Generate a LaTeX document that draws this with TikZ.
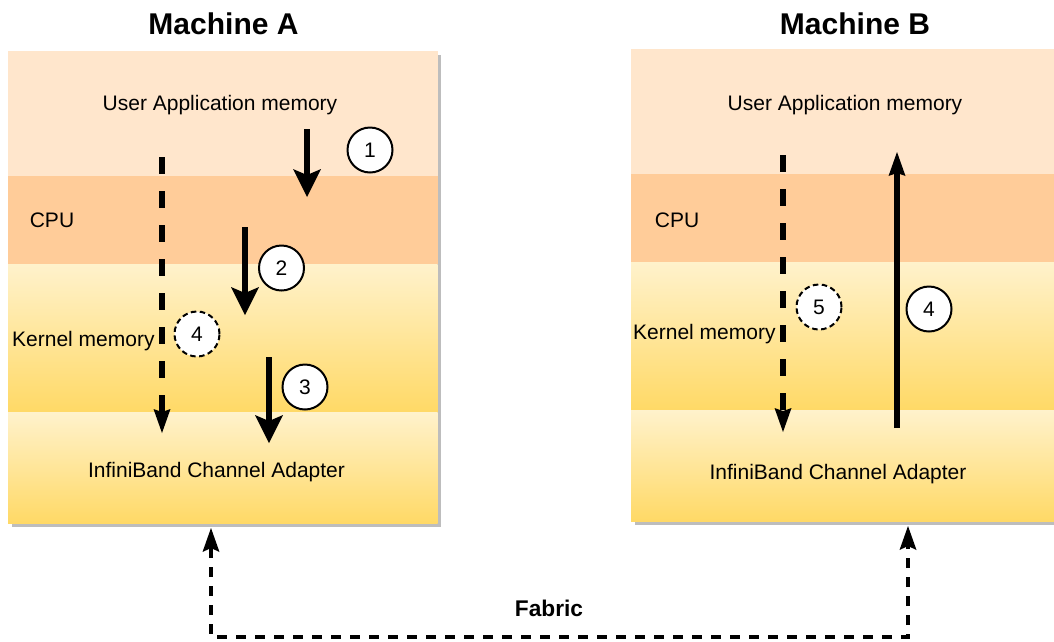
\documentclass[tikz,border=0pt]{standalone}
\usepackage{fontspec}
\setmainfont{Liberation Sans}
\usetikzlibrary{arrows.meta}
\definecolor{uam}{HTML}{FFE6CC}
\definecolor{cpuc}{HTML}{FFCC99}
\definecolor{ylt}{HTML}{FFF2CC}
\definecolor{ydk}{HTML}{FFD966}
\definecolor{shd}{HTML}{BDBDBD}
\begin{document}
\begin{tikzpicture}[x=1pt,y=-1pt,
  layer/.style={anchor=north west, inner sep=0pt, outer sep=0pt, draw=none},
  ylayer/.style={layer, top color=ylt, bottom color=ydk},
  lbl/.style={font=\fontsize{21}{25}\selectfont, inner sep=0pt},
  ttl/.style={font=\fontsize{30}{36}\selectfont\bfseries, inner sep=0pt},
  num/.style={circle, draw, line width=2pt, fill=white, minimum size=45pt, inner sep=0pt, font=\fontsize{21}{25}\selectfont},
  numd/.style={num, dash pattern=on 5.5pt off 3.5pt},
  bigarr/.style={line width=6pt, -{Stealth[length=28pt,width=28pt,inset=6pt,line width=0pt]}},
  smarr/.style={line width=6pt, -{Stealth[length=24pt,width=17pt,inset=3pt,line width=0pt]}},
  dsharr/.style={smarr, dash pattern=on 17pt off 17pt},
  fabarr/.style={line width=4pt, dash pattern=on 10pt off 9pt,
    {Stealth[length=24pt,width=17pt,inset=4pt,line width=0pt]}-{Stealth[length=24pt,width=17pt,inset=4pt,line width=0pt]}}
]
\useasboundingbox (0,0) rectangle (1054,641);

% ---------- Machine A ----------
\fill[shd] (11.5,54.5) rectangle (441,527);
\node[layer, fill=uam,  minimum width=429.5pt, minimum height=125pt] (uaA)  at (8,51)  {};
\node[layer, fill=cpuc, minimum width=429.5pt, minimum height=88pt]  (cpuA) at (8,176) {};
\node[ylayer, minimum width=429.5pt, minimum height=148pt] (kmA) at (8,264) {};
\node[ylayer, minimum width=429.5pt, minimum height=111pt] (ibA) at (8,412) {};

\node[ttl] (tA) at (223.5,24) {Machine A};
\node[lbl, anchor=base] (luaA) at (220,110) {User Application memory};
\node[lbl, anchor=base] (lcpuA) at (52,227) {CPU};
\node[lbl, anchor=base west] (lkmA) at (12,346) {Kernel memory};
\node[lbl, anchor=base] (libA) at (216.5,477) {InfiniBand Channel Adapter};

\coordinate (a1s) at (307,129); \coordinate (a1e) at (307,197);
\coordinate (a2s) at (245,227); \coordinate (a2e) at (245,315);
\coordinate (a3s) at (269,357); \coordinate (a3e) at (269,443);
\coordinate (ads) at (162,157); \coordinate (ade) at (162,433);
\draw[bigarr] (a1s) -- (a1e);
\draw[bigarr] (a2s) -- (a2e);
\draw[bigarr] (a3s) -- (a3e);
\draw[dsharr] (ads) -- (ade);

\node[num]  (c1) at (370,150) {1};
\node[num]  (c2) at (281.5,268) {2};
\node[num]  (c3) at (305,387) {3};
\node[numd] (c4a) at (197,334) {4};

% ---------- Machine B ----------
\fill[shd] (634.5,52.5) rectangle (1064,525);
\node[layer, fill=uam,  minimum width=429pt, minimum height=125pt] (uaB)  at (631,49)  {};
\node[layer, fill=cpuc, minimum width=429pt, minimum height=88pt]  (cpuB) at (631,174) {};
\node[ylayer, minimum width=429pt, minimum height=148pt] (kmB) at (631,262) {};
\node[ylayer, minimum width=429pt, minimum height=111pt] (ibB) at (631,410) {};

\node[ttl] (tB) at (855,24) {Machine B};
\node[lbl, anchor=base] (luaB) at (845,110) {User Application memory};
\node[lbl, anchor=base] (lcpuB) at (677,227) {CPU};
\node[lbl, anchor=base west] (lkmB) at (633,339) {Kernel memory};
\node[lbl, anchor=base] (libB) at (838,479) {InfiniBand Channel Adapter};

\coordinate (bds) at (783,155); \coordinate (bde) at (783,432);
\coordinate (bus) at (897,428); \coordinate (bue) at (897,152);
\draw[dsharr] (bds) -- (bde);
\draw[smarr] (bus) -- (bue);

\node[numd] (c5b) at (819,307) {5};
\node[num]  (c4b) at (929,309) {4};

% ---------- Fabric ----------
\coordinate (fA) at (211,528);
\coordinate (fA2) at (211,637);
\coordinate (fB2) at (908,637);
\coordinate (fB) at (908,526);
\draw[fabarr] (fA) -- (fA2) -- (fB2) -- (fB);
\node[font=\fontsize{22.7}{26}\selectfont\bfseries, inner sep=0pt, anchor=base] (fab) at (549,616) {Fabric};
\end{tikzpicture}
\end{document}
